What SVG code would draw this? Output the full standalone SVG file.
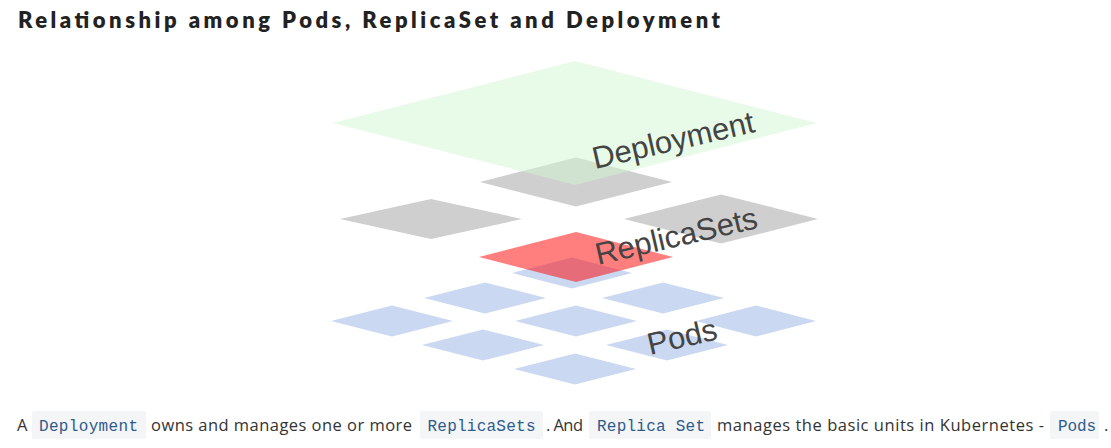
<svg xmlns="http://www.w3.org/2000/svg" width="1111" height="448" viewBox="0 0 1111 448">
<style>
.title{font-family:"Lato","Liberation Sans",sans-serif;font-weight:800;font-size:22px;fill:#222}
.pod{fill:#cad9f1}
.rs{fill:#cfcfcf}
.rsa{fill:#ff0000;fill-opacity:0.5}
.dep{fill:#d2f5d2;fill-opacity:0.5}
.lbl{font-family:"Liberation Sans",Arial,sans-serif;font-size:31px;fill:#444}
.body{font-family:"Open Sans","Noto Sans",sans-serif;font-size:16.5px;fill:#333}
.code{font-family:"Liberation Mono","DejaVu Sans Mono",monospace;font-size:16px;fill:#2f5b8c}
.cbox{fill:#f3f5f7}
</style>
<rect width="1111" height="448" fill="#ffffff"/>
<text class="title" x="18" y="28" textLength="702" lengthAdjust="spacing">Relationship among Pods, ReplicaSet and Deployment</text>

<g id="pods">
<polygon id="pod-a" class="pod" points="572,257.5 632,273 572,288.5 512,273"/>
<polygon id="pod-b" class="pod" points="485,282.5 546,298 485,313.5 424,298"/>
<polygon id="pod-c" class="pod" points="663,282.5 724,298 663,313.5 602,298"/>
<polygon id="pod-d" class="pod" points="392,305.5 453,321 392,336.5 331,321"/>
<polygon id="pod-e" class="pod" points="576,305.5 637,321 576,336.5 515,321"/>
<polygon id="pod-f" class="pod" points="756,305.5 816,321 756,336.5 696,321"/>
<polygon id="pod-g" class="pod" points="483,329.5 544,345 483,360.5 422,345"/>
<polygon id="pod-h" class="pod" points="667,329.5 728,345 667,360.5 606,345"/>
<polygon id="pod-i" class="pod" points="575,353.5 636,369 575,384.5 514,369"/>
</g>

<g id="replicasets">
<polygon id="rs-active" class="rsa" points="576,232 673,257 576,282 479,257"/>
<polygon id="rs-left" class="rs" points="431,199 522,219 431,239 340,219"/>
<polygon id="rs-right" class="rs" points="721,194.5 818,219 721,243.5 624,219"/>
<polygon id="rs-top" class="rs" points="576,157.5 672,182 576,206.5 480,182"/>
</g>

<g id="deployment">
<polygon class="dep" points="575,61 817,123 575,185 333,123"/>
</g>

<g id="connectors"/>

<g id="labels">
<text class="lbl" x="595" y="169" transform="rotate(-13 595 169)">Deployment</text>
<text class="lbl" x="598" y="265" transform="rotate(-13 598 265)">ReplicaSets</text>
<text class="lbl" x="650" y="355" transform="rotate(-13 650 355)">Pods</text>
</g>

<g id="caption">
<rect class="cbox" x="32" y="411" width="114" height="28" rx="2"/>
<rect class="cbox" x="420" y="411" width="123" height="28" rx="2"/>
<rect class="cbox" x="589" y="411" width="122" height="28" rx="2"/>
<rect class="cbox" x="1050" y="411" width="49" height="28" rx="2"/>
<text class="body" x="17" y="431">A</text>
<text class="code" x="39" y="431" textLength="99">Deployment</text>
<text class="body" x="151" y="431" textLength="261">owns and manages one or more</text>
<text class="code" x="427.5" y="431" textLength="108">ReplicaSets</text>
<text class="body" x="546" y="431" textLength="37">. And</text>
<text class="code" x="597" y="431" textLength="108">Replica Set</text>
<text class="body" x="717" y="431" textLength="327">manages the basic units in Kubernetes -</text>
<text class="code" x="1058" y="431" textLength="38">Pods</text>
<text class="body" x="1104" y="431">.</text>
</g>
</svg>
